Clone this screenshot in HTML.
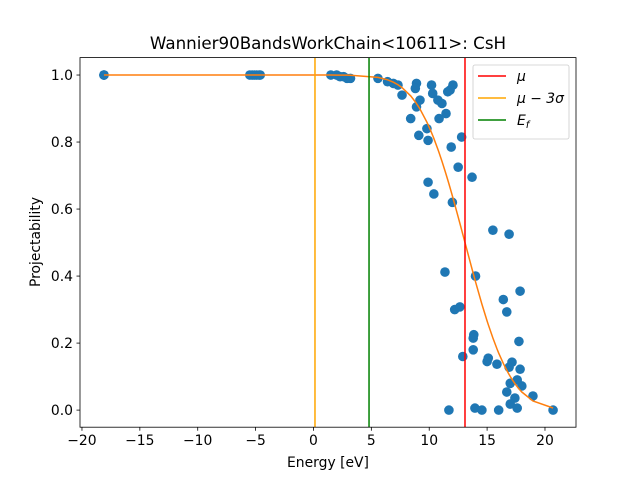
<!DOCTYPE html>
<html><head><meta charset="utf-8"><style>
body{margin:0;background:#fff}
svg{font-family:"DejaVu Sans","Liberation Sans",sans-serif}
</style></head><body>
<svg id="chart" width="640" height="480" viewBox="0 0 640 480">
<rect width="640" height="480" fill="#fff"/>
<text x="328" y="49" font-size="16.7" text-anchor="middle">Wannier90BandsWorkChain&lt;10611&gt;: CsH</text>
<g id="plot"></g>
</svg>
<script>
const xsData=[-18.1,-18.1,-18.1,-5.5,-5.3,-5.1,-4.9,-4.7,-4.6,1.5,2.0,2.3,2.6,2.9,3.2,
5.57,6.4,6.9,7.3,7.65,8.9,8.8,9.2,8.9,8.4,10.2,10.3,10.75,11.1,11.6,12.05,11.8,11.45,10.85,9.8,9.1,9.9,12.8,11.9,12.5,13.7,9.9,10.4,12.0,
15.5,16.9,11.36,14.0,17.85,16.4,16.7,12.2,12.65,13.85,13.8,17.75,13.8,12.9,15.1,15.0,15.85,17.15,16.9,17.85,17.6,17.0,18.0,16.7,18.96,17.4,17.0,17.6,11.7,13.95,14.55,16.0,20.7];
const ysData=[1,1,1,1,1,1,1,1,1,1,1,0.995,0.995,0.99,0.99,
0.99,0.98,0.975,0.97,0.94,0.975,0.96,0.925,0.905,0.87,0.97,0.945,0.925,0.915,0.95,0.97,0.955,0.885,0.87,0.84,0.82,0.805,0.815,0.785,0.725,0.695,0.68,0.645,0.62,
0.537,0.525,0.412,0.40,0.355,0.33,0.293,0.30,0.308,0.225,0.215,0.205,0.18,0.16,0.155,0.145,0.137,0.143,0.128,0.122,0.09,0.08,0.072,0.054,0.042,0.036,0.018,0.006,0,0.006,0,0,0];
const mu=13.09, muMinus3Sigma=0.13, fermiEnergy=4.8;
const xTicks=[-20,-15,-10,-5,0,5,10,15,20];
const yTicks=[0.0,0.2,0.4,0.6,0.8,1.0];

const L=80,R=576,T=57.6,B=427.2;
const xMin=-20.17,xMax=22.68,yMin=-0.051,yMax=1.052;
const sx=v=>L+(v-xMin)/(xMax-xMin)*(R-L);
const sy=v=>B-(v-yMin)/(yMax-yMin)*(B-T);
const NS="http://www.w3.org/2000/svg";
const g=document.getElementById('plot');
function mk(tag,attrs,parent){const e=document.createElementNS(NS,tag);for(const k in attrs)e.setAttribute(k,attrs[k]);(parent||g).appendChild(e);return e;}

const pts=mk('g',{});


xsData.forEach((x,i)=>{const c=mk('circle',{cx:sx(x),cy:sy(ysData[i]),r:4.8,fill:'#1f77b4'},pts);

});

function erfc(x){const z=Math.abs(x),t=1/(1+0.5*z);const r=t*Math.exp(-z*z-1.26551223+t*(1.00002368+t*(0.37409196+t*(0.09678418+t*(-0.18628806+t*(0.27886807+t*(-1.13520398+t*(1.48851587+t*(-0.82215223+t*0.17087277)))))))));return x>=0?r:2-r;}
const sigma=(mu-muMinus3Sigma)/3;
const sorted=[...xsData].sort((a,b)=>a-b);
const d=sorted.map((x,i)=>(i?'L':'M')+sx(x).toFixed(2)+','+sy(0.5*erfc((x-mu)/sigma)).toFixed(2)).join('');
const fit=mk('path',{d:d,fill:'none',stroke:'#ff7f0e','stroke-width':1.5});



[[mu,'#ff0000','mu-line'],[muMinus3Sigma,'#ffa500','mu-minus-3sigma-line'],[fermiEnergy,'#008000','fermi-energy-line']].forEach(([v,c,n])=>{
const l=mk('line',{x1:sx(v),x2:sx(v),y1:T,y2:B,stroke:c,'stroke-width':1.5});

});

const fr=mk('rect',{x:L,y:T,width:R-L,height:B-T,fill:'none',stroke:'#000','stroke-width':0.8});



xTicks.forEach(t=>{const x=sx(t);mk('line',{x1:x,x2:x,y1:B,y2:B+3.5,stroke:'#000','stroke-width':0.8});
const tx=mk('text',{x:x,y:B+18,'font-size':13.9,'text-anchor':'middle'});tx.textContent=t<0?'\u2212'+(-t):t;

});
yTicks.forEach(t=>{const y=sy(t);mk('line',{x1:L-3.5,x2:L,y1:y,y2:y,stroke:'#000','stroke-width':0.8});
const tx=mk('text',{x:L-7,y:y+5,'font-size':13.9,'text-anchor':'end'});tx.textContent=t.toFixed(1);

});

const xl=mk('text',{x:328,y:467,'font-size':13.9,'text-anchor':'middle'});xl.textContent='Energy [eV]';


const yl=mk('text',{x:0,y:0,'font-size':13.9,'text-anchor':'middle',transform:'translate(40,242) rotate(-90)'});yl.textContent='Projectability';



const lg=mk('g',{});


mk('rect',{x:473,y:65,width:96,height:74,rx:2,fill:'#fff','fill-opacity':0.8,stroke:'#ccc','stroke-width':0.8},lg);
const items=[['#ff0000','μ',''],['#ffa500','μ − 3σ',''],['#008000','E','f']];
items.forEach((it,i)=>{const y=76+i*22;
mk('line',{x1:478,x2:506,y1:y,y2:y,stroke:it[0],'stroke-width':1.5},lg);
const t=mk('text',{x:517,y:y+5,'font-size':13.9,'font-style':'italic'},lg);t.textContent=it[1];
if(it[2]){const s=document.createElementNS(NS,'tspan');s.setAttribute('font-size',10);s.setAttribute('dy',3);s.textContent=it[2];t.appendChild(s);}

});
</script>
</body></html>
